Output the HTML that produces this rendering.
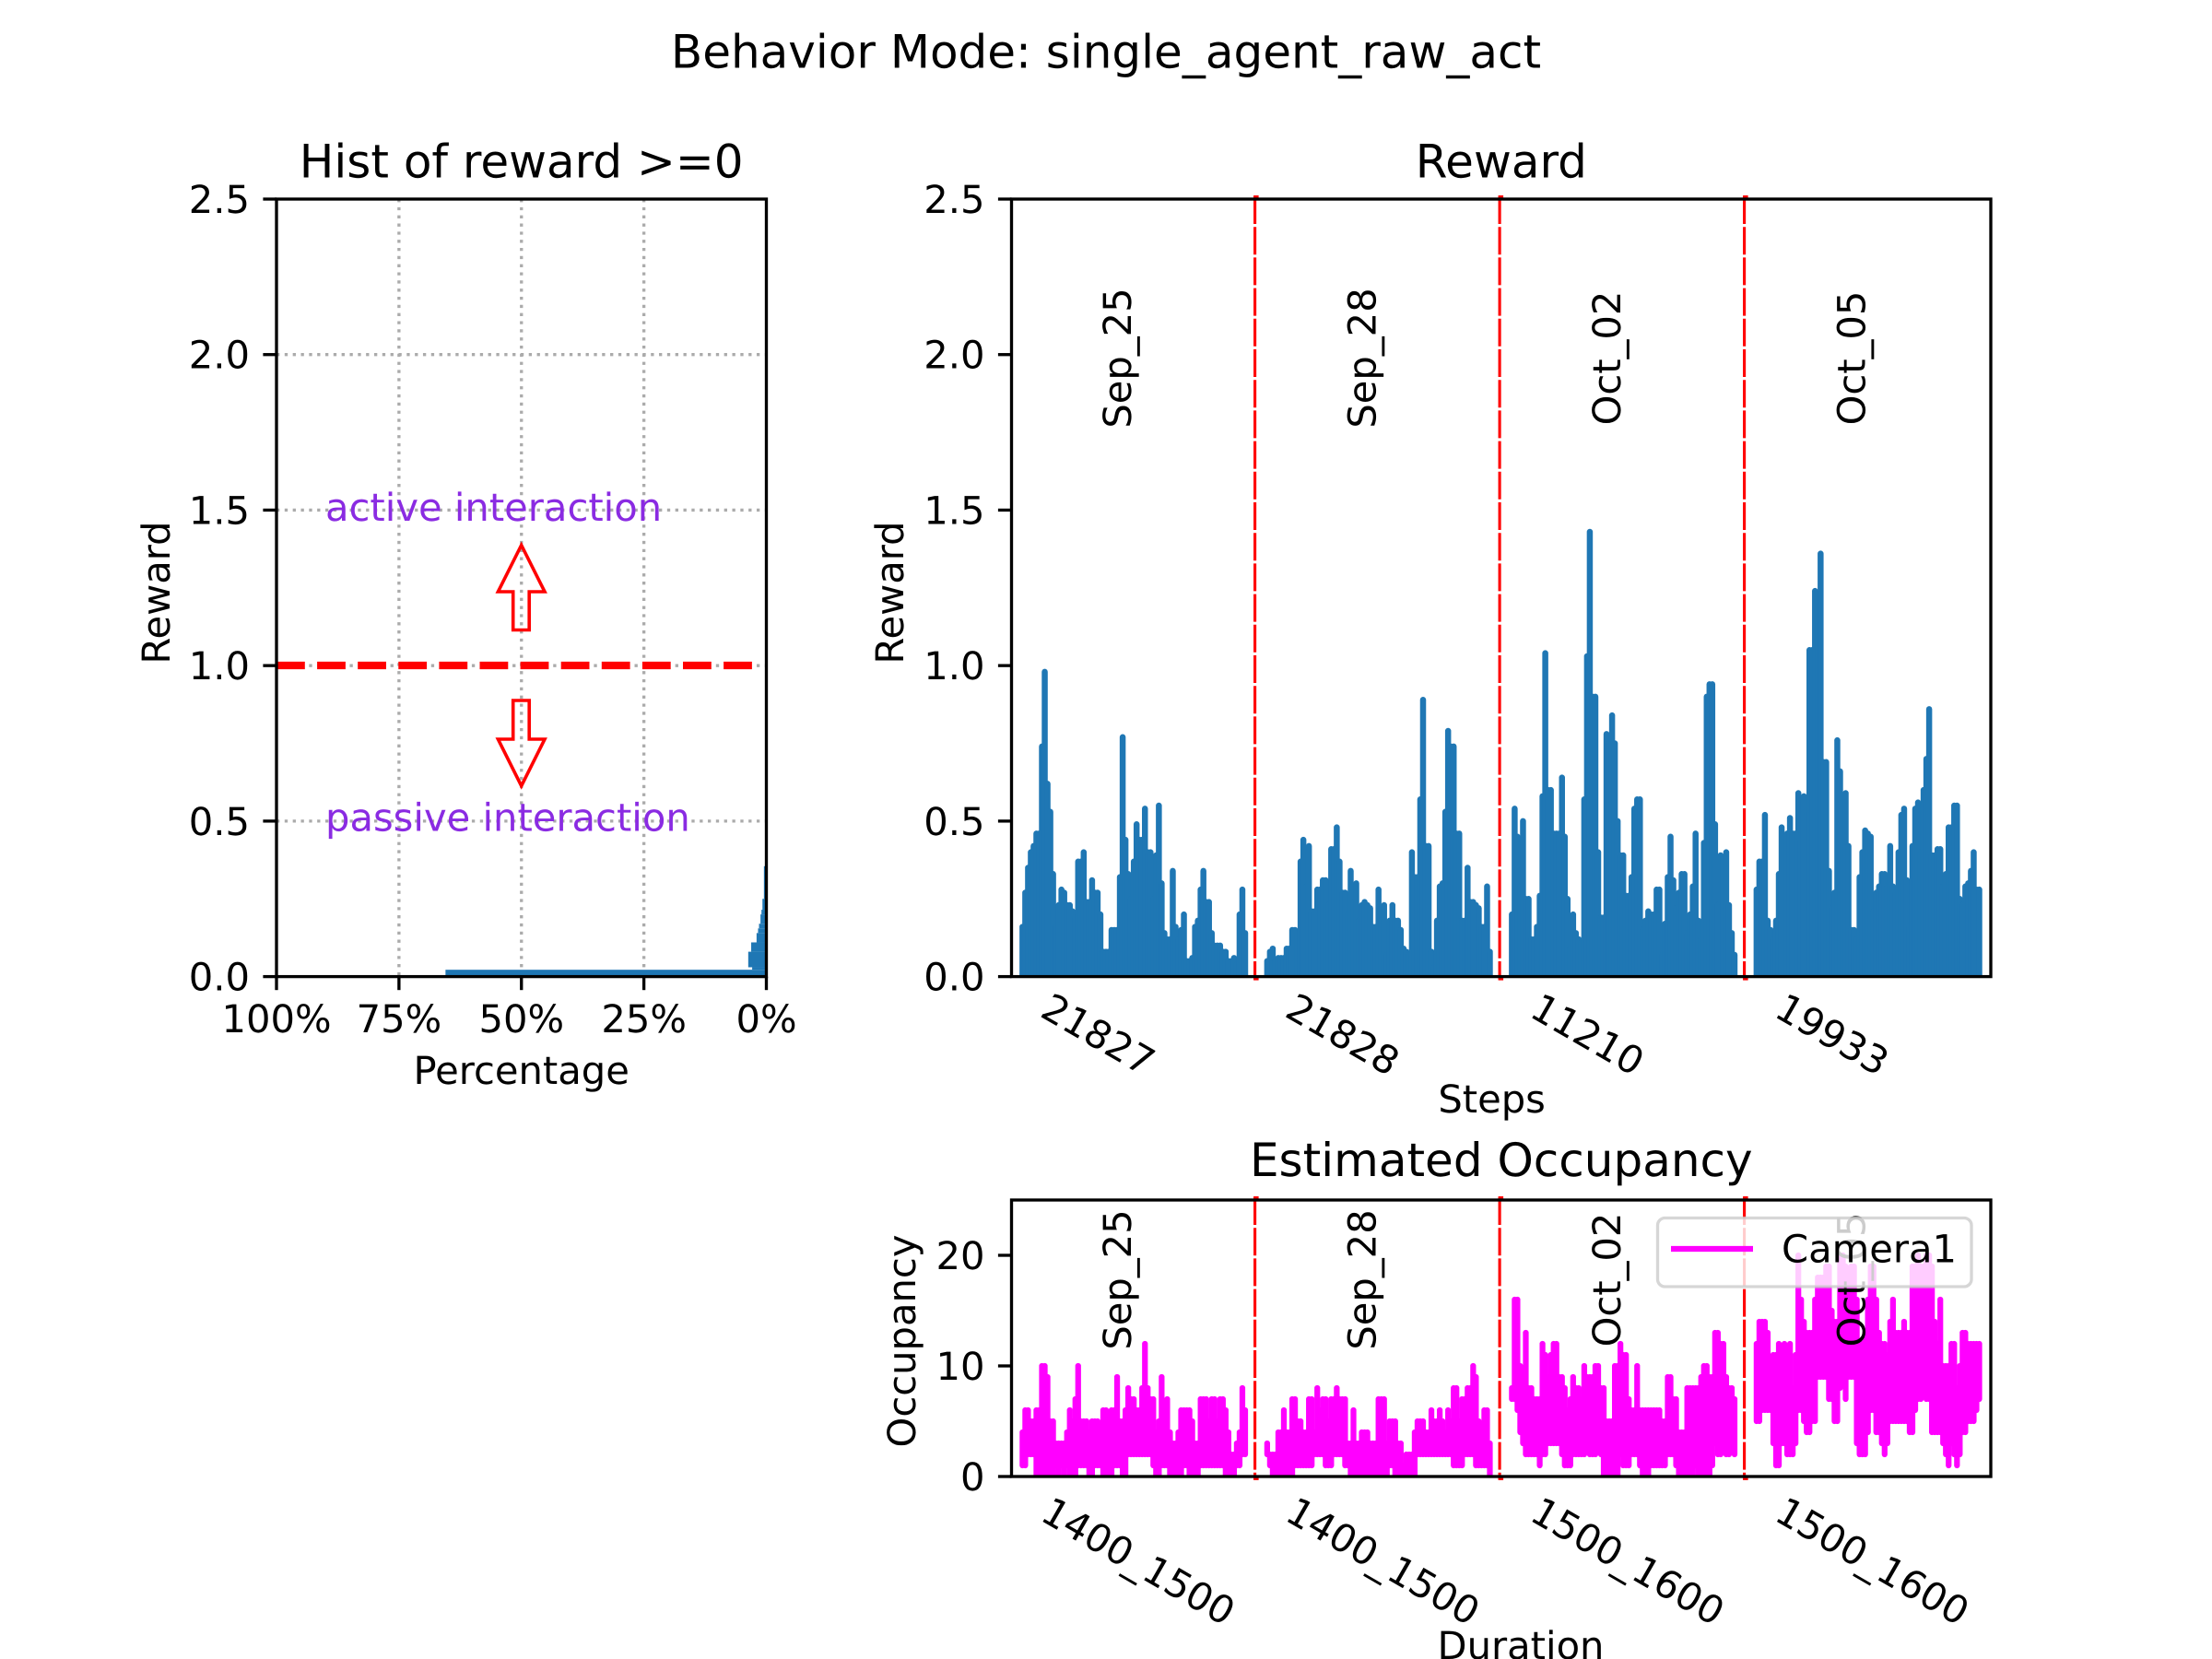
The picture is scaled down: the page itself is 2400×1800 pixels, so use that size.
<!DOCTYPE html>
<html lang="en">
<head>
<meta charset="utf-8">
<title>Behavior Mode: single_agent_raw_act</title>
<style>
html,body{margin:0;padding:0;background:#fff;}
svg{display:block;}
text{font-family:"DejaVu Sans","Liberation Sans",sans-serif;fill:#000;text-rendering:geometricPrecision;}
</style>
</head>
<body>
<svg id="fig" xmlns="http://www.w3.org/2000/svg" width="2400" height="1800" viewBox="0 0 2400 1800">
  <defs>
    <clipPath id="clip-hist"><rect x="300" y="216" width="531.5" height="843.6"/></clipPath>
    <clipPath id="clip-reward"><rect x="1097.5" y="216" width="1062.5" height="843.6"/></clipPath>
    <clipPath id="clip-occ"><rect x="1097.5" y="1302" width="1062.5" height="300"/></clipPath>
  </defs>
  <rect x="0" y="0" width="2400" height="1800" fill="#fff"/>
  <text x="1200" y="73.5" font-size="50" text-anchor="middle">Behavior Mode: single_agent_raw_act</text>

  <!-- left panel -->
  <g id="hist-grid"></g>
  <g id="hist-bars" clip-path="url(#clip-hist)"></g>
  <line x1="300" x2="818" y1="722" y2="722" stroke="#ff0000" stroke-width="8.33" stroke-dasharray="30.8 13.3"/>
  <path d="M565.7 591.5 L591 642 L574.2 642 L574.2 683.5 L556.7 683.5 L556.7 642 L540.4 642 Z" fill="none" stroke="#ff0000" stroke-width="3.6"/>
  <path d="M565.7 852.7 L591 802 L574.2 802 L574.2 760 L556.7 760 L556.7 802 L540.4 802 Z" fill="none" stroke="#ff0000" stroke-width="3.6"/>
  <text x="353" y="565" font-size="41.67" style="fill:#8a2be2">active interaction</text>
  <text x="353" y="901.5" font-size="41.67" style="fill:#8a2be2">passive interaction</text>
  <rect x="300" y="216" width="531.5" height="843.6" fill="none" stroke="#000" stroke-width="3.33"/>
  <g id="hist-axis"></g>
  <text x="565.7" y="192.5" font-size="50" text-anchor="middle">Hist of reward &gt;=0</text>
  <text x="565.7" y="1176" font-size="41.67" text-anchor="middle">Percentage</text>
  <text transform="translate(184,643) rotate(-90)" font-size="41.67" text-anchor="middle">Reward</text>

  <!-- reward panel -->
  <g id="reward-marks" clip-path="url(#clip-reward)"></g>
  <g id="reward-overlay"></g>
  <rect x="1097.5" y="216" width="1062.5" height="843.6" fill="none" stroke="#000" stroke-width="3.33"/>
  <g id="reward-axis"></g>
  <text x="1628.8" y="192.5" font-size="50" text-anchor="middle">Reward</text>
  <text x="1618.6" y="1207" font-size="41.67" text-anchor="middle">Steps</text>
  <text transform="translate(980,643) rotate(-90)" font-size="41.67" text-anchor="middle">Reward</text>

  <!-- occupancy panel -->
  <g id="occ-marks" clip-path="url(#clip-occ)"></g>
  <g id="occ-overlay"></g>
  <rect x="1097.5" y="1302" width="1062.5" height="300" fill="none" stroke="#000" stroke-width="3.33"/>
  <g id="occ-axis"></g>
  <g>
    <rect x="1798.5" y="1321.5" width="340.5" height="74.5" rx="8" ry="8" fill="#fff" fill-opacity="0.8" stroke="#cccccc" stroke-opacity="0.8" stroke-width="3.33"/>
    <line x1="1813" x2="1902" y1="1355" y2="1355" stroke="#ff00ff" stroke-width="6.25"/>
    <text x="1933" y="1369.5" font-size="41.67">Camera1</text>
  </g>
  <text x="1628.8" y="1276" font-size="50" text-anchor="middle">Estimated Occupancy</text>
  <text x="1650" y="1800" font-size="41.67" text-anchor="middle">Duration</text>
  <text transform="translate(993,1455) rotate(-90)" font-size="41.67" text-anchor="middle">Occupancy</text>
</svg>

<script>
// ---- chart data ----
const dayLabels = ["Sep_25", "Sep_28", "Oct_02", "Oct_05"];
const stepLabels = ["21827", "21828", "11210", "19933"];
const durationLabels = ["1400_1500", "1400_1500", "1500_1600", "1500_1600"];

const rewardTicks = [0, 0.5, 1, 1.5, 2, 2.5];
const rewardTickLabels = ["0.0", "0.5", "1.0", "1.5", "2.0", "2.5"];
const occupancyTicks = [0, 10, 20];
const occupancyTickLabels = ["0", "10", "20"];
const percentTicks = [100, 75, 50, 25, 0];
const percentTickLabels = ["100%", "75%", "50%", "25%", "0%"];

const histBinTops = [0.022, 0.03, 0.08, 0.11, 0.14, 0.155, 0.17, 0.20, 0.215, 0.25, 0.355];
const histPercents = [65.5, 2.9, 3.7, 3.1, 2.0, 1.7, 1.5, 1.2, 1.0, 0.8, 0.5];

const rewardSep25 = [.16,.27,.35,.40,.42,.46,.46,.74,.98,.62,.53,.33,.16,.23,.28,.27,.23,.23,.21,.19,.37,.37,.40,.24,.24,.31,.27,.27,.20,.08,.08,.08,.15,.15,.15,.32,.77,.44,.33,.25,.37,.49,.44,.44,.54,.40,.40,.25,.39,.55,.30,.14,.12,.12,.34,.16,.12,.15,.20,.05,.05,.06,.16,.18,.28,.34,.24,.24,.14,.10,.10,.10,.08,.08,.05,.05,.06,.04,.20,.28,.14];
const rewardSep28 = [.05,.08,.09,.05,.06,.06,.06,.09,.09,.15,.15,.14,.37,.44,.29,.42,.21,.21,.28,.28,.31,.31,.23,.41,.41,.48,.37,.27,.27,.20,.34,.24,.30,.18,.23,.24,.23,.22,.16,.16,.28,.18,.23,.07,.18,.23,.18,.18,.15,.09,.08,.07,.40,.32,.32,.57,.89,.42,.42,.08,.03,.18,.29,.30,.53,.79,.74,.74,.46,.46,.18,.18,.35,.24,.24,.23,.22,.16,.16,.29,.08];
const rewardOct02 = [.20,.54,.45,.29,.50,.25,.25,.12,.12,.16,.26,.58,1.04,.60,.60,.46,.46,.46,.64,.45,.25,.09,.20,.14,.12,.11,.57,1.03,1.43,.90,.90,.40,.19,.19,.78,.75,.84,.75,.50,.39,.39,.26,.26,.32,.54,.57,.57,.15,.18,.21,.20,.20,.28,.28,.07,.17,.32,.45,.31,.22,.27,.33,.33,.14,.20,.29,.46,.18,.12,.43,.90,.94,.94,.49,.23,.39,.38,.40,.23,.14,.07];
const rewardOct05 = [.28,.37,.37,.52,.18,.15,.12,.18,.33,.48,.45,.46,.51,.46,.46,.59,.44,.58,.52,1.05,1.05,1.24,1.14,1.36,.69,.69,.34,.22,.27,.76,.66,.43,.59,.42,.15,.15,.12,.32,.40,.47,.46,.45,.21,.27,.29,.33,.33,.29,.42,.29,.27,.40,.52,.54,.31,.16,.42,.54,.56,.40,.60,.70,.86,.39,.39,.41,.41,.29,.33,.48,.48,.55,.55,.25,.23,.29,.30,.34,.40,.28,.28];

const occHighSep25 = [4,6,6,5,5,6,6,10,10,9,5,5,3,3,3,3,4,6,5,7,10,5,5,5,4,5,5,5,4,6,6,4,6,6,9,5,5,6,8,7,7,6,6,8,12,8,7,7,4,5,9,6,7,4,3,3,4,6,6,6,6,5,3,3,7,7,7,5,7,7,5,7,7,6,4,2,2,3,4,8,6];
const occLowSep25 = [1,1,2,2,2,0,0,0,0,0,0,0,1,0,1,0,1,0,0,0,1,1,1,1,0,0,1,1,1,0,0,0,0,1,1,1,0,0,2,2,2,2,2,2,2,2,2,1,0,0,1,1,1,0,0,0,0,0,1,1,0,0,0,0,1,1,1,1,1,1,1,1,1,0,0,0,0,1,1,2,2];
const occHighSep28 = [3,2,2,2,4,4,6,4,4,7,7,5,5,4,4,7,7,4,8,6,7,7,5,7,7,8,7,7,7,3,3,6,3,3,4,4,4,3,3,3,7,7,7,3,5,5,5,3,3,1,2,2,2,4,5,5,5,4,4,6,5,5,6,5,4,6,5,8,8,5,7,7,8,8,10,9,5,4,6,6,3];
const occLowSep28 = [2,1,0,0,0,0,0,0,0,0,1,1,1,1,1,1,1,2,2,2,2,1,1,1,2,2,2,2,1,1,0,0,0,0,0,0,0,0,0,0,0,0,0,0,1,1,0,0,0,0,0,0,0,0,2,2,2,2,2,2,2,2,2,2,2,2,2,1,1,1,1,2,2,2,2,1,1,1,1,1,0];
const occHighOct02 = [8,16,16,10,8,13,8,8,7,7,7,12,11,9,11,12,12,9,9,8,6,7,9,8,8,7,10,9,9,9,10,10,8,8,5,5,5,10,10,12,11,11,7,6,6,10,6,6,6,6,6,6,6,6,5,5,9,9,7,7,4,4,4,8,8,8,8,8,9,10,10,9,9,13,13,12,12,9,8,8,7];
const occLowOct02 = [7,7,6,4,3,2,2,2,2,2,1,2,2,3,3,3,3,3,2,1,1,1,2,2,2,2,2,3,2,2,2,3,2,0,0,0,0,0,0,2,1,1,1,2,2,2,1,0,0,0,1,1,1,1,1,1,2,2,2,1,0,0,0,0,0,0,1,0,0,0,0,0,1,3,2,2,3,2,2,3,2];
const occHighOct05 = [12,14,14,14,13,10,11,11,12,10,12,11,12,8,11,20,16,14,13,13,13,16,18,18,18,19,19,15,14,14,20,20,19,16,19,19,16,12,12,13,16,19,19,16,13,12,12,11,14,16,13,13,13,14,13,13,19,19,20,19,19,20,20,19,14,12,16,10,10,10,12,12,8,10,13,13,12,12,12,12,12];
const occLowOct05 = [5,5,6,6,6,6,3,1,1,3,3,2,2,2,3,6,6,5,4,4,5,5,9,9,9,9,7,7,5,5,8,9,7,9,9,9,3,2,2,2,4,6,6,4,4,3,2,3,5,5,5,5,5,5,5,4,4,6,7,7,8,7,7,4,4,4,4,3,2,1,3,2,1,2,4,4,5,5,5,6,7];

const rewardByDay = [rewardSep25, rewardSep28, rewardOct02, rewardOct05];
const occHighByDay = [occHighSep25, occHighSep28, occHighOct02, occHighOct05];
const occLowByDay = [occLowSep25, occLowSep28, occLowOct02, occLowOct05];

// ---- scales ----
const SVGNS = "http://www.w3.org/2000/svg";
function xDay(d) { return 1096.1 + 265.5 * d; }
function xSample(day, i, n) { return xDay(day + 0.05 + 0.91 * i / (n - 1)); }
function yReward(v) { return 1059.6 - v * 843.6 / 2.5; }
function yOcc(v) { return 1602 - v * 300 / 25; }
function xPct(p) { return 831.5 - p * 531.5 / 100; }

function make(parent, tag, attrs, content) {
  const el = document.createElementNS(SVGNS, tag);
  for (const k in attrs) el.setAttribute(k, attrs[k]);
  if (content !== undefined) el.textContent = content;
  parent.appendChild(el);
  return el;
}
const byId = function (id) { return document.getElementById(id); };

// ---- left panel: grid ----
rewardTicks.forEach(function (v) {
  if (v === 0 || v === 2.5) return;
  const el = make(byId("hist-grid"), "line", {x1: 300, x2: 831.5, y1: yReward(v), y2: yReward(v), stroke: "#ababab", "stroke-width": 3.33, "stroke-dasharray": "3.33 5.5"});
  
  
});
percentTicks.forEach(function (p) {
  if (p === 0 || p === 100) return;
  const el = make(byId("hist-grid"), "line", {x1: xPct(p), x2: xPct(p), y1: 216, y2: 1059.6, stroke: "#ababab", "stroke-width": 3.33, "stroke-dasharray": "3.33 5.5"});
  
  
});

// ---- left panel: histogram bars ----
histBinTops.forEach(function (top, i) {
  const low = i === 0 ? 0 : histBinTops[i - 1];
  const x = xPct(histPercents[i]);
  const el = make(byId("hist-bars"), "rect", {x: x, y: yReward(top), width: xPct(0) - x, height: yReward(low) - yReward(top), fill: "#1f77b4"});
  
  
});

// ---- left panel: axes ----
rewardTicks.forEach(function (v, i) {
  const tick = make(byId("hist-axis"), "line", {x1: 285.4, x2: 300, y1: yReward(v), y2: yReward(v), stroke: "#000", "stroke-width": 3.33});
  
  
  const label = make(byId("hist-axis"), "text", {x: 271, y: yReward(v) + 15, "font-size": 41.67, "text-anchor": "end"}, rewardTickLabels[i]);
  
  
});
percentTicks.forEach(function (p, i) {
  const tick = make(byId("hist-axis"), "line", {x1: xPct(p), x2: xPct(p), y1: 1059.6, y2: 1074.2, stroke: "#000", "stroke-width": 3.33});
  
  
  const label = make(byId("hist-axis"), "text", {x: xPct(p), y: 1120, "font-size": 41.67, "text-anchor": "middle"}, percentTickLabels[i]);
  
  
});

// ---- reward series ----
rewardByDay.forEach(function (values, day) {
  values.forEach(function (v, i) {
    const x = xSample(day, i, values.length);
    const el = make(byId("reward-marks"), "line", {x1: x, x2: x, y1: yReward(0), y2: yReward(v), stroke: "#1f77b4", "stroke-width": 6.5, "stroke-linecap": "round"});
    
    
  });
});

// ---- occupancy series ----
occHighByDay.forEach(function (highs, day) {
  highs.forEach(function (hi, i) {
    const x = xSample(day, i, highs.length);
    const lo = occLowByDay[day][i];
    const el = make(byId("occ-marks"), "line", {x1: x, x2: x, y1: yOcc(lo), y2: yOcc(hi), stroke: "#ff00ff", "stroke-width": 6.25, "stroke-linecap": "round"});
    
    
  });
});

// ---- day separators and labels on both panels ----
function overlay(groupId, top, bottom, labelY, dayLabelBaseX) {
  const group = byId(groupId);
  for (let d = 1; d < 4; d++) {
    const x = xDay(d);
    const sep = make(group, "line", {x1: x, x2: x, y1: top - 3, y2: bottom + 3, stroke: "#ff0000", "stroke-width": 3.1, "stroke-dasharray": "30 3.2"});
    
    
    const stubTop = make(group, "rect", {x: x - 1.5, y: top - 4, width: 5.5, height: 3, fill: "#ff0000"});
    
    
    const stubBottom = make(group, "rect", {x: x - 1.5, y: bottom + 1, width: 5.5, height: 3, fill: "#ff0000"});
    
    
  }
  dayLabels.forEach(function (name, d) {
    const x = xDay(d) + dayLabelBaseX;
    const t = make(group, "text", {transform: "translate(" + x + "," + labelY + ") rotate(-90)", "font-size": 41.67, "text-anchor": "middle"}, name);
    
    
  });
}
overlay("reward-overlay", 216, 1059.6, 388.5, 131);
overlay("occ-overlay", 1302, 1602, 1388.5, 131);

// ---- right panel axes ----
rewardTicks.forEach(function (v, i) {
  const tick = make(byId("reward-axis"), "line", {x1: 1082.9, x2: 1097.5, y1: yReward(v), y2: yReward(v), stroke: "#000", "stroke-width": 3.33});
  
  
  const label = make(byId("reward-axis"), "text", {x: 1068.5, y: yReward(v) + 15, "font-size": 41.67, "text-anchor": "end"}, rewardTickLabels[i]);
  
  
});
stepLabels.forEach(function (s, d) {
  const x = xDay(d) + 95.4;
  const label = make(byId("reward-axis"), "text", {transform: "translate(" + x + ",1122.5) rotate(30)", "font-size": 41.67, "text-anchor": "middle", "dominant-baseline": "central"}, s);
  
  
});
occupancyTicks.forEach(function (v, i) {
  const tick = make(byId("occ-axis"), "line", {x1: 1082.9, x2: 1097.5, y1: yOcc(v), y2: yOcc(v), stroke: "#000", "stroke-width": 3.33});
  
  
  const label = make(byId("occ-axis"), "text", {x: 1068.5, y: yOcc(v) + 15, "font-size": 41.67, "text-anchor": "end"}, occupancyTickLabels[i]);
  
  
});
durationLabels.forEach(function (s, d) {
  const x = xDay(d) + 139;
  const label = make(byId("occ-axis"), "text", {transform: "translate(" + x + ",1694) rotate(30)", "font-size": 41.67, "text-anchor": "middle", "dominant-baseline": "central"}, s);
  
  
});
</script>
</body>
</html>
